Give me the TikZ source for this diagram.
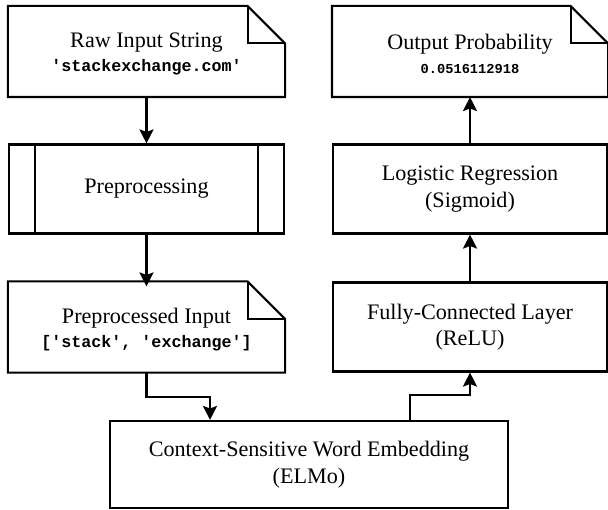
\documentclass[tikz,border=0pt]{standalone}
\usepackage{fontspec}
\setmainfont{Liberation Serif}
\setmonofont{Liberation Mono}
\usetikzlibrary{arrows.meta}

\newcommand\codetxt{\fontsize{9.5}{11}\selectfont\ttfamily\bfseries}

\begin{document}
\begin{tikzpicture}[
    line width=1.2pt,
    box/.style={
        minimum width=5.5cm,
        minimum height=1.78cm,
        align=center,
        font=\fontsize{12.6}{15}\selectfont
    },
    plain/.style={box, draw},
    doc/.style={box, yshift=-0.05cm},
    arrow/.style={-{Stealth[length=8pt,width=8pt,inset=1.5pt]}}
]
\useasboundingbox (0,0) rectangle (12.16,-10.2);

\def\fold{0.75cm}
\newcommand\docoutline[1]{%
  \draw ([yshift=0.05cm]#1.north west) -- ([xshift=-\fold,yshift=0.05cm]#1.north east)
    -- ([yshift=0.05cm-\fold]#1.north east) -- ([yshift=0.05cm]#1.south east)
    -- ([yshift=0.05cm]#1.south west) -- cycle;
  \draw ([xshift=-\fold,yshift=0.05cm]#1.north east)
    |- ([yshift=0.05cm-\fold]#1.north east);
}

%==========================
% input side
%==========================
\node[doc] (raw) at (2.93,-1.03)
{Raw Input String\\[-1pt]{\codetxt 'stackexchange.com'}};
\docoutline{raw}

\node[plain] (prep) at (2.93,-3.78) {Preprocessing};
\draw ([xshift=0.54cm]prep.north west) -- ([xshift=0.54cm]prep.south west);
\draw ([xshift=-0.54cm]prep.north east) -- ([xshift=-0.54cm]prep.south east);

\node[doc] (pin) at (2.93,-6.54)
{Preprocessed Input\\[-1pt]{\codetxt ['stack', 'exchange']}};
\docoutline{pin}

%==========================
% embedding
%==========================
\node[plain, minimum width=7.96cm, minimum height=1.74cm] (elmo) at (6.18,-9.29)
{Context-Sensitive Word Embedding\\(ELMo)};

%==========================
% output side
%==========================
\node[plain, minimum width=5.48cm] (fc) at (9.40,-6.54)
{Fully-Connected Layer\\(ReLU)};
\node[plain, minimum width=5.48cm] (logreg) at (9.40,-3.78)
{Logistic Regression\\(Sigmoid)};
\node[doc, minimum width=5.48cm] (prob) at (9.40,-1.03)
{Output Probability\\[-1pt]{\fontsize{7.8}{9}\selectfont\ttfamily\bfseries 0.0516112918}};
\docoutline{prob}

\draw[arrow] ([yshift=0.05cm]raw.south) -- (prep);
\draw[arrow] (prep) -- ([yshift=-0.05cm]pin.north);
\draw[arrow] ([yshift=0.05cm]pin.south) -- ++(0,-0.48) -| ([xshift=-1.98cm]elmo.north);
\draw[arrow] ([xshift=2.02cm]elmo.north) -- ++(0,0.5) -| (fc.south);
\draw[arrow] (fc) -- (logreg);
\draw[arrow] (logreg) -- ([yshift=0.05cm]prob.south);

\end{tikzpicture}
\end{document}
